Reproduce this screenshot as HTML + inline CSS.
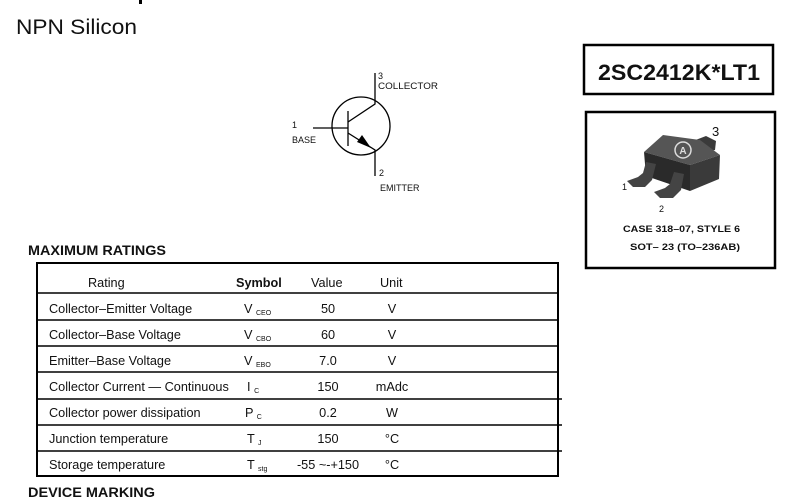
<!DOCTYPE html>
<html><head><meta charset="utf-8"><style>
html,body{margin:0;padding:0;background:#fff;width:800px;height:500px;overflow:hidden}
svg{display:block;font-family:"Liberation Sans",Arial,sans-serif}
</style></head><body>
<svg width="800" height="500" viewBox="0 0 800 500" xmlns="http://www.w3.org/2000/svg">
<rect x="139" y="0" width="3" height="4" fill="#000"/>
<text x="16" y="34" font-size="21.5" fill="#111" textLength="121" lengthAdjust="spacingAndGlyphs">NPN Silicon</text>

<!-- transistor symbol -->
<g stroke="#000" stroke-width="1.3" fill="none">
<circle cx="361" cy="126" r="29"/>
<line x1="313" y1="128" x2="348" y2="128"/>
<line x1="348" y1="111" x2="348" y2="146"/>
<polyline points="348,122 375,104 375,73"/>
<polyline points="348,133 375,150 375,176"/>
</g>
<polygon points="371,148 357,142 362,135" fill="#000"/>
<g font-size="9" fill="#111">
<text x="378" y="79">3</text><text x="378" y="89" textLength="60" lengthAdjust="spacingAndGlyphs">COLLECTOR</text>
<text x="292" y="128">1</text><text x="292" y="143">BASE</text>
<text x="379" y="176">2</text><text x="380" y="191">EMITTER</text>
</g>

<!-- part number box -->
<rect x="584" y="45" width="189" height="49" fill="none" stroke="#000" stroke-width="2.5"/>
<text x="598" y="80" font-size="22" font-weight="bold" fill="#111" textLength="162" lengthAdjust="spacingAndGlyphs">2SC2412K*LT1</text>

<!-- package box -->
<rect x="586" y="112" width="189" height="156" fill="none" stroke="#000" stroke-width="2.5"/>
<text x="712" y="136" font-size="13" fill="#111">3</text>
<text x="622" y="190" font-size="9" fill="#111">1</text>
<text x="659" y="212" font-size="9" fill="#111">2</text>
<!-- tab 3 -->
<polygon points="693,141 706,136 716,141 715,150 702,152" fill="#3a3a3a"/>
<!-- body -->
<polygon points="644,152 663,135 700,140 720,155 690,165" fill="#555"/>
<polygon points="644,152 690,165 690,191 646,176" fill="#2a2a2a"/>
<polygon points="690,165 720,155 719,179 690,191" fill="#3a3a3a"/>
<circle cx="683" cy="150" r="8" fill="none" stroke="#ddd" stroke-width="1.5"/>
<text x="683" y="154" font-size="10" font-weight="bold" fill="#ddd" text-anchor="middle">A</text>
<!-- leads -->
<polygon points="646,162 656,164 652,180 645,187 633,187 627,181 638,177 643,173" fill="#444"/>
<polygon points="674,172 684,174 681,190 673,198 660,198 654,192 665,188 670,184" fill="#444"/>
<text x="623" y="232" font-size="9.5" font-weight="bold" fill="#111" textLength="117" lengthAdjust="spacingAndGlyphs">CASE 318–07, STYLE 6</text>
<text x="630" y="250" font-size="9.5" font-weight="bold" fill="#111" textLength="110" lengthAdjust="spacingAndGlyphs">SOT– 23 (TO–236AB)</text>

<!-- table -->
<text x="28" y="255" font-size="13.5" font-weight="bold" fill="#111" textLength="138" lengthAdjust="spacingAndGlyphs">MAXIMUM RATINGS</text>
<rect x="37" y="263" width="521" height="213" fill="none" stroke="#000" stroke-width="2"/>
<g stroke="#000" stroke-width="1.6">
<line x1="37" y1="293" x2="558" y2="293"/>
<line x1="37" y1="320" x2="558" y2="320"/>
<line x1="37" y1="346" x2="558" y2="346"/>
<line x1="37" y1="372" x2="558" y2="372"/>
<line x1="37" y1="399" x2="562" y2="399"/>
<line x1="37" y1="425" x2="562" y2="425"/>
<line x1="37" y1="451" x2="562" y2="451"/>
</g>
<g font-size="12.7" fill="#111">
<text x="88" y="287">Rating</text>
<text x="236" y="287" font-weight="bold">Symbol</text>
<text x="311" y="287">Value</text>
<text x="380" y="287">Unit</text>

<text x="49" y="313">Collector–Emitter Voltage</text>
<text x="49" y="339">Collector–Base Voltage</text>
<text x="49" y="365">Emitter–Base Voltage</text>
<text x="49" y="391">Collector Current — Continuous</text>
<text x="49" y="417">Collector power dissipation</text>
<text x="49" y="443">Junction temperature</text>
<text x="49" y="469">Storage temperature</text>

<text x="244" y="313">V <tspan font-size="7" dy="2">CEO</tspan></text>
<text x="244" y="339">V <tspan font-size="7" dy="2">CBO</tspan></text>
<text x="244" y="365">V <tspan font-size="7" dy="2">EBO</tspan></text>
<text x="247" y="391">I <tspan font-size="7" dy="2">C</tspan></text>
<text x="245" y="417">P <tspan font-size="7" dy="2">C</tspan></text>
<text x="247" y="443">T <tspan font-size="7" dy="2">J</tspan></text>
<text x="247" y="469">T <tspan font-size="7" dy="2">stg</tspan></text>

<text x="328" y="313" text-anchor="middle">50</text>
<text x="328" y="339" text-anchor="middle">60</text>
<text x="328" y="365" text-anchor="middle">7.0</text>
<text x="328" y="391" text-anchor="middle">150</text>
<text x="328" y="417" text-anchor="middle">0.2</text>
<text x="328" y="443" text-anchor="middle">150</text>
<text x="328" y="469" text-anchor="middle">-55 ~-+150</text>

<text x="392" y="313" text-anchor="middle">V</text>
<text x="392" y="339" text-anchor="middle">V</text>
<text x="392" y="365" text-anchor="middle">V</text>
<text x="392" y="391" text-anchor="middle">mAdc</text>
<text x="392" y="417" text-anchor="middle">W</text>
<text x="392" y="443" text-anchor="middle">°C</text>
<text x="392" y="469" text-anchor="middle">°C</text>
</g>
<text x="28" y="497" font-size="13.5" font-weight="bold" fill="#111" textLength="127" lengthAdjust="spacingAndGlyphs">DEVICE MARKING</text>
</svg>
</body></html>
